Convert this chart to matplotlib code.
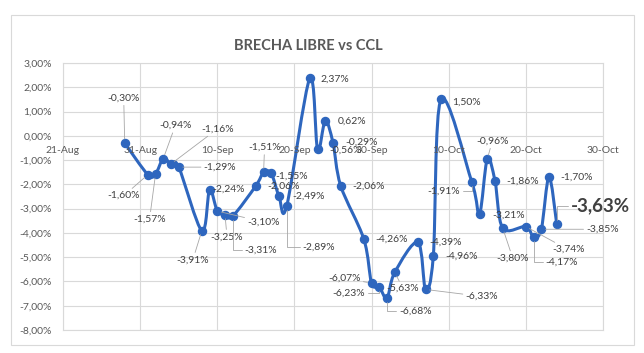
import numpy as np
import pandas as pd
import matplotlib
matplotlib.use("Agg")
import matplotlib.pyplot as plt
import matplotlib.dates as mdates
from matplotlib.path import Path
from matplotlib.patches import PathPatch, Rectangle

plt.rcParams['font.family'] = ['Lato', 'DejaVu Sans']

# data
fechas = ["2025-08-29",
          "2025-09-01", "2025-09-02", "2025-09-03", "2025-09-04", "2025-09-05",
          "2025-09-08", "2025-09-09", "2025-09-10", "2025-09-11", "2025-09-12",
          "2025-09-15", "2025-09-16", "2025-09-17", "2025-09-18", "2025-09-19",
          "2025-09-22", "2025-09-23", "2025-09-24", "2025-09-25", "2025-09-26",
          "2025-09-29", "2025-09-30", "2025-10-01", "2025-10-02", "2025-10-03",
          "2025-10-06", "2025-10-07", "2025-10-08", "2025-10-09",
          "2025-10-13", "2025-10-14", "2025-10-15", "2025-10-16", "2025-10-17",
          "2025-10-20", "2025-10-21", "2025-10-22", "2025-10-23", "2025-10-24"]
brecha = [-0.30,
          -1.60, -1.57, -0.94, -1.16, -1.29,
          -3.91, -2.24, -3.10, -3.25, -3.31,
          -2.06, -1.51, -1.55, -2.49, -2.89,
          2.37, -0.56, 0.62, -0.29, -2.06,
          -4.26, -6.07, -6.23, -6.68, -5.63,
          -4.39, -6.33, -4.96, 1.50,
          -1.91, -3.21, -0.96, -1.86, -3.80,
          -3.74, -4.17, -3.85, -1.70, -3.63]
x_ticks = ["2025-08-21", "2025-08-31", "2025-09-10", "2025-09-20",
           "2025-09-30", "2025-10-10", "2025-10-20", "2025-10-30"]
y_ticks = [3, 2, 1, 0, -1, -2, -3, -4, -5, -6, -7, -8]

# label placement: offset in pixels (dx, dy down), alignment, leader type
lab_pos = [(-1, -45, 'center', 'line'),
           (-24, 21, 'center', 'line'), (-6, 45, 'center', 'line'), (12, -33, 'center', 'line'),
           (30, -35, 'left', 'line'), (25, 0, 'left', 'line'),
           (-9, 29, 'center', 'line'), (3, -1, 'left', None), (30, 11, 'left', 'line'),
           (2, 22, 'center', 'line'), (12, 34, 'left', 'elbow'),
           (11, 0, 'left', None), (1, -25, 'center', 'line'), (4, 3, 'left', None),
           (13, 0, 'left', None), (16, 41, 'left', 'elbow'),
           (11, 1, 'left', None), (12, 1, 'left', None), (12, 0, 'left', None),
           (12, -1, 'left', None), (12, 0, 'left', None),
           (11, 0, 'left', None), (-11, -5, 'right', 'line'), (-14, 6, 'right', 'elbow'),
           (12, 13, 'left', 'elbow'), (-8, 16, 'left', 'line'),
           (11, 0, 'left', None), (40, 7, 'left', 'line'), (12, 0, 'left', None),
           (11, 3, 'left', None),
           (-12, 9, 'right', 'elbow'), (13, 1, 'left', None), (5, -18, 'center', 'line'),
           (11, 0, 'left', None), (10, 30, 'center', 'line'),
           (26, 23, 'left', 'line'), (12, 25, 'left', 'elbow'), (45, 0, 'left', 'line'),
           (11, 0, 'left', None), (14, -18, 'left', 'elbow')]

x = mdates.date2num(pd.to_datetime(fechas))
y = np.array(brecha)

fig = plt.figure(figsize=(6.44, 3.53), dpi=100)
fig.patches.append(Rectangle((11/644, 1-345/353), 623/644, 330/353, transform=fig.transFigure,
                             fill=False, edgecolor='#D9D9D9', lw=0.8))
ax = fig.add_axes([63/644, 1-330/353, 540/644, 267/353])

# smoothed line like excel (bezier through the points)
pts = np.column_stack([x, y])
ext = np.vstack([pts[0], pts, pts[-1]])
verts = [pts[0]]
codes = [Path.MOVETO]
for i in range(len(pts) - 1):
    p0, p1, p2, p3 = ext[i], ext[i+1], ext[i+2], ext[i+3]
    verts += [p1 + (p2 - p0) / 6, p2 - (p3 - p1) / 6, p2]
    codes += [Path.CURVE4] * 3
ax.add_patch(PathPatch(Path(verts, codes), fill=False, edgecolor='#2E66BE', lw=2.2,
                       capstyle='round', joinstyle='round', zorder=3))
ax.plot(x, y, 'o', color='#2E66BE', ms=5.8, zorder=4)

ax.set_xlim(mdates.date2num(pd.Timestamp(x_ticks[0])), mdates.date2num(pd.Timestamp(x_ticks[-1])))
ax.set_ylim(-8, 3)
ax.set_xticks(mdates.date2num(pd.to_datetime(x_ticks)))
ax.set_yticks(y_ticks)
ax.set_xticklabels([])
ax.set_yticklabels([f"{v:.2f}%".replace('.', ',') for v in y_ticks], fontsize=7.5, color='#595959')
ax.tick_params(length=0, pad=8)
ax.grid(True, color='#D9D9D9', lw=0.8)
for s in ax.spines.values():
    s.set_color('#D9D9D9')
    s.set_linewidth(0.8)

for d in x_ticks:
    ax.annotate(pd.Timestamp(d).strftime('%d-%b').lstrip('0'), (mdates.date2num(pd.Timestamp(d)), 0),
                xytext=(0, -15), textcoords='offset pixels', ha='center', va='center',
                fontsize=7.5, color='#595959', annotation_clip=False)

# data labels
for i, (xi, yi) in enumerate(zip(x, y)):
    dx, dy, ha, lead = lab_pos[i]
    txt = f"{yi:.2f}%".replace('.', ',')
    big = i == len(x) - 1
    arrow = None
    if lead == 'line':
        arrow = dict(arrowstyle='-', color='#A6A6A6', lw=0.6, shrinkA=0, shrinkB=3)
    elif lead == 'elbow':
        arrow = dict(arrowstyle='-', color='#A6A6A6', lw=0.6, shrinkA=0, shrinkB=3,
                     connectionstyle='angle,angleA=0,angleB=90,rad=0')
    ax.annotate(txt, (xi, yi), xytext=(dx, -dy), textcoords='offset pixels',
                ha=ha, va='center', fontsize=13.5 if big else 7.5,
                fontweight='bold' if big else 'normal',
                color='#404040', arrowprops=arrow, zorder=5, annotation_clip=False)

fig.text(308/644, 1-46/353, 'BRECHA LIBRE vs CCL', ha='center', va='center',
         fontsize=10.5, fontweight='bold', color='#595959')

fig.savefig('out.png', dpi=100)
